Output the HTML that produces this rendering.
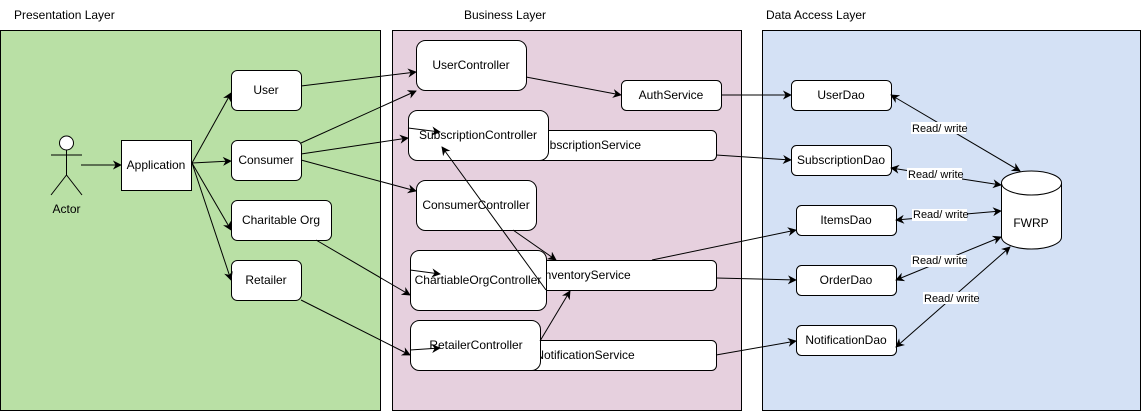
<!DOCTYPE html>
<html><head><meta charset="utf-8"><style>
body{margin:0;width:1142px;height:411px;background:#fff;overflow:hidden}
svg{display:block;font-family:"Liberation Sans",sans-serif;font-size:12px}
</style></head><body>
<svg width="1142" height="411" viewBox="0 0 1142 411">
<defs><marker id="a" viewBox="0 0 10 10" refX="9" refY="5" markerWidth="9" markerHeight="9" orient="auto-start-reverse" markerUnits="userSpaceOnUse"><path d="M0,0 L10,5 L0,10 L3,5z" fill="#000"/></marker></defs>
<text x="14" y="19">Presentation Layer</text>
<text x="464" y="19">Business Layer</text>
<text x="766" y="19">Data Access Layer</text>
<rect x="0.5" y="30.5" width="380" height="380" fill="#b9e0a5" stroke="#000"/>
<rect x="392.5" y="30.5" width="349" height="380" fill="#e6d0de" stroke="#000"/>
<rect x="762.5" y="30.5" width="378" height="380" fill="#d4e1f5" stroke="#000"/>
<g stroke="#000" fill="none" stroke-width="1">
<circle cx="66.5" cy="143" r="7" fill="#fff"/>
<line x1="66.5" y1="150" x2="66.5" y2="175"/><line x1="51" y1="155" x2="82" y2="155"/>
<line x1="66.5" y1="175" x2="51" y2="195"/><line x1="66.5" y1="175" x2="82" y2="195"/>
</g>
<text x="66.5" y="213" text-anchor="middle">Actor</text>
<g stroke="#000" fill="#fff">
<rect x="121.5" y="140.5" width="70" height="50"/>
<rect x="231.5" y="70.5" width="70" height="40" rx="6"/>
<rect x="231.5" y="140.5" width="70" height="40" rx="6"/>
<rect x="231.5" y="200.5" width="100" height="40" rx="6"/>
<rect x="231.5" y="260.5" width="70" height="40" rx="6"/>
<rect x="426.5" y="130.5" width="290" height="30" rx="5"/>
<rect x="426.5" y="260.5" width="290" height="30" rx="5"/>
<rect x="426.5" y="340.5" width="290" height="30" rx="5"/>
<rect x="416.5" y="40.5" width="110" height="50" rx="9"/>
<rect x="621.5" y="80.5" width="100" height="30" rx="5"/>
<rect x="416.5" y="180.5" width="120" height="50" rx="9"/>
<rect x="791.5" y="80.5" width="100" height="30" rx="5"/>
<rect x="791.5" y="145.5" width="100" height="30" rx="5"/>
<rect x="796.5" y="205.5" width="100" height="30" rx="5"/>
<rect x="796.5" y="265.5" width="100" height="30" rx="5"/>
<rect x="796.5" y="325.5" width="100" height="30" rx="5"/>
<path d="M1001.5,183 A30,12 0 0 1 1061.5,183 V237 A30,12 0 0 1 1001.5,237 Z"/>
<path d="M1001.5,183 A30,12 0 0 0 1061.5,183" fill="none"/>
</g>
<g text-anchor="middle">
<text x="156" y="169">Application</text>
<text x="266" y="94">User</text>
<text x="266" y="164">Consumer</text>
<text x="281" y="224">Charitable Org</text>
<text x="266" y="284">Retailer</text>
<text x="588" y="149">SubscriptionService</text>
<text x="586" y="279">InventoryService</text>
<text x="585" y="359">NotificationService</text>
</g>
<g fill="#fff" stroke="#000">
<rect x="408.5" y="110.5" width="140" height="50" rx="9"/>
<rect x="410.5" y="250.5" width="136" height="60" rx="9"/>
<rect x="410.5" y="320.5" width="130" height="50" rx="9"/>
</g>
<g text-anchor="middle">
<text x="471" y="69">UserController</text>
<text x="671" y="99">AuthService</text>
<text x="478" y="139">SubscriptionController</text>
<text x="476" y="209">ConsumerController</text>
<text x="478" y="284">ChartiableOrgController</text>
<text x="476" y="349">RetailerController</text>
<text x="841" y="99">UserDao</text>
<text x="841" y="164">SubscriptionDao</text>
<text x="846" y="224">ItemsDao</text>
<text x="846" y="284">OrderDao</text>
<text x="846" y="344">NotificationDao</text>
<text x="1031" y="227">FWRP</text>
</g>
<g stroke="#000" fill="none" marker-end="url(#a)">
<line x1="81" y1="165" x2="121" y2="165"/>
<line x1="192" y1="163" x2="231" y2="93"/>
<line x1="192" y1="163" x2="231" y2="161"/>
<line x1="192" y1="163" x2="231" y2="230"/>
<line x1="192" y1="163" x2="231" y2="280"/>
<line x1="301" y1="86" x2="416" y2="72"/>
<line x1="301" y1="143" x2="416" y2="91"/>
<line x1="301" y1="154" x2="408" y2="138"/>
<line x1="301" y1="160" x2="416" y2="191"/>
<line x1="316" y1="240" x2="410" y2="295"/>
<line x1="301" y1="300" x2="410" y2="355"/>
<line x1="526" y1="77" x2="621" y2="95"/>
<line x1="721" y1="95" x2="791" y2="95"/>
<line x1="716" y1="155" x2="791" y2="160"/>
<line x1="513" y1="230" x2="556" y2="260"/>
<line x1="546" y1="290" x2="442" y2="147"/>
<line x1="408" y1="128" x2="440" y2="132"/>
<line x1="410" y1="270" x2="440" y2="274"/>
<line x1="410" y1="350" x2="440" y2="348"/>
<line x1="540" y1="341" x2="570" y2="291"/>
<line x1="652" y1="260" x2="796" y2="230"/>
<line x1="716" y1="278" x2="796" y2="280"/>
<line x1="716" y1="355" x2="796" y2="341"/>
<line x1="891" y1="95" x2="1020" y2="171" marker-start="url(#a)"/>
<line x1="891" y1="168" x2="1001" y2="185" marker-start="url(#a)"/>
<line x1="896" y1="220" x2="1001" y2="211" marker-start="url(#a)"/>
<line x1="896" y1="280" x2="1001" y2="237" marker-start="url(#a)"/>
<line x1="896" y1="347" x2="1010" y2="247" marker-start="url(#a)"/>
</g>
<g font-size="11">
<rect x="911" y="122" width="55" height="12" fill="#fff"/><text x="912" y="132">Read/ write</text>
<rect x="907" y="168" width="55" height="12" fill="#fff"/><text x="908" y="178">Read/ write</text>
<rect x="912" y="209" width="55" height="12" fill="#fff"/><text x="913" y="218">Read/ write</text>
<rect x="911" y="255" width="55" height="12" fill="#fff"/><text x="912" y="264">Read/ write</text>
<rect x="923" y="292" width="55" height="12" fill="#fff"/><text x="924" y="302">Read/ write</text>
</g>
</svg>
</body></html>
